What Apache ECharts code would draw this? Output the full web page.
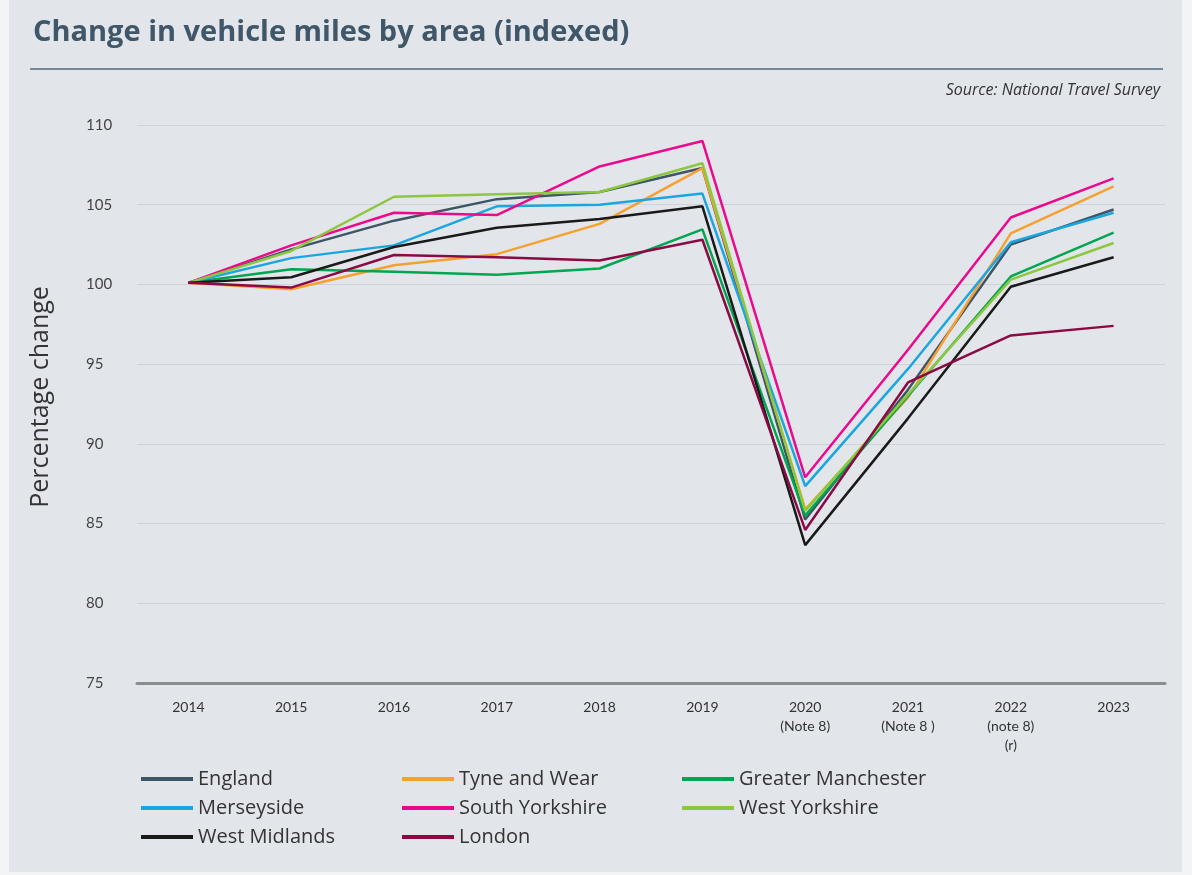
<!DOCTYPE html>
<html>
<head>
<meta charset="utf-8">
<script src="https://cdn.jsdelivr.net/npm/echarts@6/dist/echarts.min.js"></script>
<style>
  html, body { margin: 0; padding: 0; background: #f2f4f6; }
  #chart { width: 1192px; height: 875px; }
</style>
</head>
<body>
<div id="chart"></div>
<script>
// categories (x axis)
var years = ['2014', '2015', '2016', '2017', '2018', '2019',
  '2020\n(Note 8)', '2021\n(Note 8 )', '2022\n(note 8)\n(r)', '2023']

// values (index, 2014 = 100)
var england = [100.1, 102.2, 104.0, 105.35, 105.8, 107.3, 85.25, 93.4, 102.5, 104.7]
var tyneWear = [100.1, 99.7, 101.2, 101.9, 103.8, 107.3, 85.9, 92.9, 103.2, 106.15]
var greaterManchester = [100.1, 100.95, 100.8, 100.6, 101.0, 103.45, 85.5, 93.0, 100.5, 103.25]
var merseyside = [100.1, 101.65, 102.45, 104.9, 105.0, 105.7, 87.35, 94.7, 102.65, 104.5]
var southYorkshire = [100.1, 102.45, 104.5, 104.35, 107.4, 109.0, 87.9, 95.9, 104.2, 106.65]
var westYorkshire = [100.1, 102.1, 105.5, 105.65, 105.8, 107.6, 85.8, 93.1, 100.3, 102.6]
var westMidlands = [100.1, 100.45, 102.35, 103.55, 104.1, 104.9, 83.65, 91.6, 99.85, 101.7]
var london = [100.1, 99.8, 101.85, 101.7, 101.5, 102.8, 84.6, 93.85, 96.8, 97.4]

var areas = [
  { name: 'England', data: england, color: '#3d5566' },
  { name: 'Tyne and Wear', data: tyneWear, color: '#f7a030' },
  { name: 'Greater Manchester', data: greaterManchester, color: '#00a651' },
  { name: 'Merseyside', data: merseyside, color: '#1ca6e0' },
  { name: 'South Yorkshire', data: southYorkshire, color: '#ec0a8c' },
  { name: 'West Yorkshire', data: westYorkshire, color: '#8dc63f' },
  { name: 'West Midlands', data: westMidlands, color: '#1a1a1a' },
  { name: 'London', data: london, color: '#8b0a44' }
]

var font = 'Lato, "Open Sans", sans-serif'
var wideFont = '"Open Sans", Lato, sans-serif'

// one legend per column so the columns line up like the original
function legendColumn (left, names) {
  return {
    orient: 'vertical',
    left: left,
    top: 764,
    icon: 'rect',
    itemWidth: 52,
    itemHeight: 4,
    itemGap: 9,
    data: names,
    textStyle: { fontFamily: wideFont, fontSize: 20, color: '#333', lineHeight: 20 }
  }
}

var chart = echarts.init(document.getElementById('chart'))
chart.setOption({
  backgroundColor: 'transparent',
  animation: false,
  graphic: [
    { type: 'rect', z: -10, shape: { x: 9, y: 0, width: 1173, height: 872 }, style: { fill: '#e2e6eb' } },
    { type: 'line', shape: { x1: 30, y1: 69, x2: 1163, y2: 69 }, style: { stroke: '#516a7c', lineWidth: 1.5 } }
  ],
  title: [{
    text: 'Change in vehicle miles by area (indexed)',
    left: 28,
    top: 13,
    textStyle: { fontFamily: wideFont, fontSize: 29, fontWeight: 'bold', color: '#3f5769' }
  }, {
    text: 'Source: National Travel Survey',
    right: 27,
    top: 77,
    textStyle: { fontFamily: wideFont, fontSize: 16, fontStyle: 'italic', fontWeight: 'normal', color: '#333' }
  }],
  legend: [
    legendColumn(136, ['England', 'Merseyside', 'West Midlands']),
    legendColumn(397, ['Tyne and Wear', 'South Yorkshire', 'London']),
    legendColumn(677, ['Greater Manchester', 'West Yorkshire'])
  ],
  grid: { left: 137, right: 27, top: 125, bottom: 192 },
  xAxis: {
    type: 'category',
    data: years,
    boundaryGap: true,
    axisLine: { lineStyle: { color: '#8a8d90', width: 3 } },
    axisTick: { show: false },
    axisLabel: { fontFamily: font, fontSize: 14, color: '#333', margin: 15, lineHeight: 19, interval: 0 }
  },
  yAxis: {
    type: 'value',
    min: 75,
    max: 110,
    interval: 5,
    name: 'Percentage change',
    nameLocation: 'middle',
    nameGap: 84,
    nameTextStyle: { fontFamily: wideFont, fontSize: 25, color: '#333', padding: [0, 0, 0, 14] },
    axisLine: { show: false },
    axisTick: { show: false },
    axisLabel: { fontFamily: font, fontSize: 15, color: '#444', align: 'left', margin: 51 },
    splitLine: { lineStyle: { color: '#cfd3d8', width: 1 } }
  },
  series: areas.map(function (a) {
    return {
      name: a.name,
      type: 'line',
      data: a.data,
      symbol: 'none',
      color: a.color,
      lineStyle: { width: 2.5, color: a.color }
    }
  })
})
</script>
</body>
</html>
